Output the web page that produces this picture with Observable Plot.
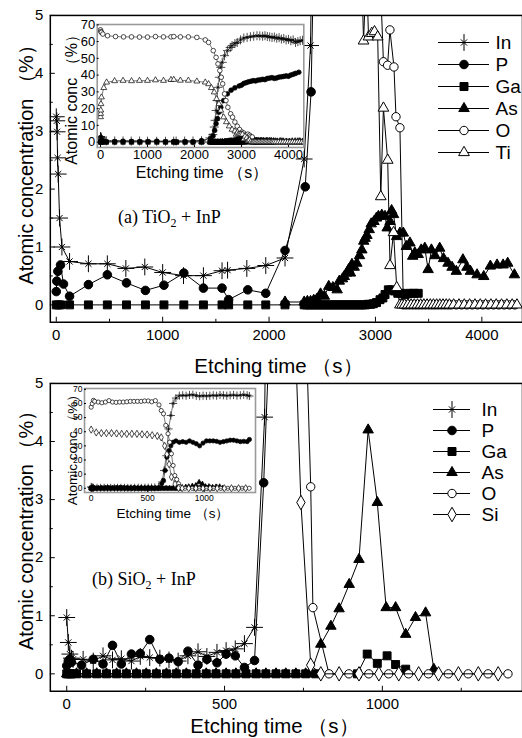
<!DOCTYPE html>
<html><head><meta charset="utf-8">
<script src="https://cdn.jsdelivr.net/npm/d3@7"></script>
<script src="https://cdn.jsdelivr.net/npm/@observablehq/plot@0.6"></script>
<style>
html,body{margin:0;padding:0;background:#fff;overflow:hidden;}
#root{position:relative;width:522px;height:738px;overflow:hidden;font-family:"Liberation Sans",Arial,sans-serif;}
#root > *{position:absolute;}
#root svg{overflow:visible;}
.ann{font-family:"Liberation Serif","Times New Roman",serif;font-size:18px;line-height:1;white-space:nowrap;color:#000;}
.ann .sub{font-size:12px;position:relative;top:4px;}
</style></head><body><div id="root"></div>
<script>
// ---------------- text & ticks ----------------
const xTitle = "Etching time （s）";
const yTitle = "Atomic concentration （%）";
const insetYTitle = "Atomic conc （%）";
const legendA = ["In","P","Ga","As","O","Ti"];
const legendB = ["In","P","Ga","As","O","Si"];
const xTicksA = [0,1000,2000,3000,4000];
const xMinorA = [500,1500,2500,3500];
const xTicksB = [0,500,1000];
const xMinorB = [250,750,1250];
const yTicks = [0,1,2,3,4,5];
const yMinor = [0.5,1.5,2.5,3.5,4.5];
const insetYTicks = [0,10,20,30,40,50,60,70];
const insetXTicksA = [0,1000,2000,3000,4000];
const insetXTicksB = [0,500,1000];

// ---------------- panel (a) TiO2 + InP : [time s, at.%] ----------------
const a_In = [[0,3.25],[5,3.18],[8,2.99],[12,2.54],[18,2.26],[31,1.5],[53,1.0],[125,0.75],[302,0.71],[480,0.71],[654,0.63],[832,0.655],[1000,0.56],[1196,0.505],[1383,0.505],[1558,0.59],[1610,0.6],[1791,0.63],[1969,0.68],[2150,0.81],[2330,2.52],[2390,4.48],[2420,9],[2440,13],[2460,18.9],[2480,24.8],[2500,32.7],[2530,38.7],[2560,44.6],[2590,47.6],[2640,51.6],[2700,54.6],[2760,56.5],[2800,57.6],[2860,58.8],[2910,59.5],[2980,61],[3050,62.1],[3120,62.5],[3190,62.9],[3260,63.2],[3330,63.5],[3390,63.4],[3450,63.2],[3500,63.5],[3550,63],[3600,62.8],[3650,62.5],[3700,62.7],[3750,62],[3800,62.3],[3850,61.5],[3900,61.8],[3950,61],[4000,61.3],[4050,60.5],[4100,61],[4150,59.5],[4200,60],[4250,60.5],[4300,60.8]];
const a_P = [[0,0.23],[5,0.41],[15,0.58],[40,0.69],[68,0.36],[125,0.15],[302,0.35],[480,0.52],[660,0.38],[838,0.25],[1012,0.34],[1199,0.55],[1383,0.29],[1558,0.29],[1620,0.09],[1800,0.26],[1969,0.2],[2150,0.94],[2340,2.04],[2395,3.68],[2430,7],[2460,11],[2490,14],[2520,17.9],[2560,20.8],[2620,24.8],[2700,28.8],[2780,31],[2860,32.4],[2950,33.5],[3000,34],[3050,35],[3100,35.5],[3150,36],[3200,36.3],[3250,36.7],[3300,36.5],[3350,37],[3400,37.2],[3450,37.5],[3500,37.3],[3550,38],[3600,38.2],[3650,38.5],[3700,38],[3750,38.3],[3800,38.8],[3850,39],[3900,39.2],[3950,39.5],[4000,39.3],[4050,40],[4100,40.5],[4150,41],[4220,41.7]];
const a_Ga = [[0,0],[20,0],[40,0],[125,0],[302,0],[480,0],[660,0],[838,0],[1012,0],[1199,0],[1383,0],[1558,0],[1620,0],[1800,0],[1969,0],[2150,0],[2330,0],[2355,0],[2380,0],[2405,0],[2430,0],[2455,0],[2480,0],[2505,0],[2530,0],[2555,0],[2580,0],[2605,0],[2630,0],[2655,0],[2680,0],[2705,0],[2730,0],[2755,0],[2780,0],[2805,0],[2830,0],[2855,0],[2880,0],[2905,0],[2930,0.01],[2955,0.01],[2980,0.02],[3010,0.04],[3043,0.09],[3070,0.12],[3090,0.18],[3121,0.26],[3152,0.26],[3180,0.24],[3210,0.2],[3240,0.2],[3280,0.18],[3320,0.2],[3360,0.2],[3402,0.2]];
const a_As = [[2150,0.05],[2330,0.05],[2360,0.06],[2390,0.06],[2420,0.08],[2450,0.1],[2484,0.19],[2520,0.15],[2561,0.32],[2600,0.3],[2640,0.26],[2660,0.41],[2690,0.45],[2707,0.49],[2730,0.55],[2748,0.61],[2765,0.55],[2779,0.7],[2800,0.65],[2825,0.72],[2850,0.85],[2872,0.95],[2890,1.1],[2903,1.15],[2920,1.2],[2941,1.3],[2960,1.4],[2986,1.44],[3010,1.5],[3028,1.53],[3060,1.55],[3090,1.53],[3110,1.33],[3137,1.44],[3152,1.63],[3170,1.56],[3199,1.18],[3230,1.24],[3262,1.24],[3290,1.01],[3324,1.07],[3350,0.84],[3370,0.9],[3402,0.87],[3430,0.95],[3464,0.98],[3495,0.61],[3526,0.95],[3560,0.85],[3604,0.98],[3640,0.8],[3682,0.72],[3720,0.65],[3760,0.58],[3822,0.78],[3860,0.65],[3893,0.58],[3955,0.52],[4018,0.49],[4080,0.67],[4143,0.69],[4200,0.69],[4243,0.72],[4306,0.52]];
const a_O = [[0,67],[8,66],[20,65.5],[50,64.5],[150,63.5],[320,63],[490,62.8],[660,62.8],[830,62.7],[1000,62.7],[1170,63],[1340,62.8],[1500,62.8],[1560,63],[1700,62.8],[1870,62.8],[2050,62.5],[2230,61],[2300,59.5],[2400,54.6],[2460,50.6],[2500,46.7],[2540,42.7],[2570,38.7],[2600,34.8],[2640,28.8],[2670,24.8],[2710,20.8],[2770,16.9],[2810,14.9],[2860,12],[2910,9.5],[2960,7.5],[3010,6],[3050,5.4],[3075,4.2],[3114,4.14],[3136,4.75],[3174,4.11],[3193,3.25],[3230,3.06],[3262,0],[3290,0],[3320,0],[3350,0],[3380,0],[3410,0],[3440,0],[3470,0],[3500,0],[3530,0],[3560,0],[3590,0],[3620,0],[3650,0],[3680,0],[3710,0],[3760,0],[3810,0],[3860,0],[3910,0],[3960,0],[4010,0],[4060,0],[4110,0],[4160,0],[4210,0],[4260,0],[4310,0]];
const a_Ti = [[0,15],[3,17],[6,19],[10,22.8],[20,26.8],[70,32.4],[130,35.7],[300,36.5],[480,36.7],[660,36.5],[830,36.7],[1000,36.7],[1170,37],[1340,36.7],[1500,37.2],[1560,37.3],[1700,36.8],[1870,36.8],[2050,36.3],[2230,35.7],[2300,34.7],[2360,32.4],[2420,29.8],[2470,25.8],[2520,22.8],[2560,18.9],[2620,14.9],[2680,12],[2740,9.5],[2800,7.5],[2860,6.5],[2888,4.56],[2915,5.8],[2935,4.63],[2965,4.69],[2991,4.72],[3021,4.63],[3050,1.87],[3075,3.4],[3115,2.5],[3137,0.68],[3170,1.25],[3200,0.3],[3230,0],[3250,0],[3275,0],[3305,0],[3335,0],[3365,0],[3395,0],[3425,0],[3455,0],[3485,0],[3515,0],[3545,0],[3575,0],[3605,0],[3635,0],[3665,0],[3695,0],[3735,0],[3785,0],[3835,0],[3885,0],[3935,0],[3985,0],[4035,0],[4085,0],[4135,0],[4185,0],[4235,0],[4285,0],[4330,0]];

// ---------------- panel (b) SiO2 + InP ----------------
const b_In = [[0,0.97],[5,0.54],[10,0.34],[15,0.27],[20,0.25],[52,0.25],[84,0.22],[115,0.31],[145,0.24],[173,0.26],[205,0.22],[233,0.3],[263,0.28],[295,0.27],[324,0.24],[353,0.22],[384,0.31],[416,0.38],[444,0.3],[476,0.37],[505,0.4],[534,0.43],[563,0.52],[595,0.8],[627,4.42],[645,12.6],[665,23],[685,42],[705,51.5],[725,60],[750,63.8],[780,65.5],[810,65.8],[840,65.5],[870,66],[900,66.2],[930,65.5],[960,65.2],[990,65.5],[1020,65.3],[1050,65.5],[1080,65.8],[1110,65.5],[1140,66],[1170,65.8],[1200,65.5],[1230,65.8],[1260,66],[1290,65.6],[1320,65.8],[1350,66.2],[1380,65.8],[1400,65.3]];
const b_P = [[0,0.14],[5,0.22],[10,0.25],[15,0.2],[47,0.15],[84,0.25],[115,0.17],[145,0.49],[173,0.17],[205,0.34],[233,0.35],[263,0.59],[295,0.25],[324,0.27],[353,0.21],[384,0.39],[416,0.15],[444,0.25],[476,0.19],[505,0.34],[534,0.31],[563,0.11],[595,0.23],[624,3.29],[640,5.5],[655,12.6],[670,22],[690,26.7],[705,30],[725,32.6],[750,33.5],[780,32.5],[810,33],[840,32.5],[870,33.5],[900,32.5],[930,31.5],[960,30],[990,32],[1020,33.5],[1050,33.5],[1080,33.5],[1110,33.2],[1140,32.5],[1170,33],[1200,33.5],[1230,34],[1260,34],[1290,33.5],[1320,33],[1350,33.2],[1380,33],[1400,34.5]];
const b_Ga = [[0,0],[5,0],[10,0],[15,0],[31,0],[63,0],[95,0],[126,0],[158,0],[189,0],[221,0],[252,0],[284,0],[316,0],[347,0],[379,0],[410,0],[442,0],[473,0],[505,0],[536,0],[568,0],[600,0],[631,0],[663,0],[694,0],[726,0],[757,0],[789,0],[921,0],[952,0.34],[984,0.18],[1015,0.31],[1042,0.16],[1074,0.08]];
const b_As = [[0,0],[31,0],[63,0],[95,0],[126,0],[158,0],[189,0],[221,0],[252,0],[284,0],[316,0],[347,0],[379,0],[410,0],[442,0],[473,0],[505,0],[536,0],[568,0],[600,0],[631,0],[663,0],[694,0],[726,0],[757,0],[773,0],[805,0.51],[837,0.82],[863,1.12],[895,1.54],[926,1.97],[955,4.2],[984,2.95],[1012,1.14],[1042,1.14],[1074,0.68],[1105,0.97],[1137,1.05],[1163,0.08]];
const b_O = [[0,57.4],[10,59.9],[20,62.2],[31,61.5],[63,61],[95,60.5],[126,61],[158,62],[189,61],[221,60.8],[252,61],[284,61],[316,61.2],[347,61.5],[379,61.5],[410,61.5],[442,61.5],[473,61.8],[505,61.8],[536,61.2],[568,62],[600,59],[620,55],[640,52.7],[660,44.5],[680,38.6],[695,32.6],[710,24.4],[725,16.1],[740,9],[757,6.2],[773,3.22],[780,1.14],[831,0],[894,0],[957,0],[1020,0],[1083,0],[1146,0],[1209,0],[1272,0],[1335,0],[1398,0]];
const b_Si = [[0,41.5],[45,39.5],[90,39],[135,39],[180,39],[225,38.8],[270,38.5],[315,38.5],[360,38.5],[405,38.5],[450,38.2],[495,38],[540,37.5],[585,37],[620,36],[650,30],[670,24],[690,17],[710,8],[742,2.95],[773,0.15],[805,0],[863,0],[926,0],[989,0],[1052,0],[1115,0],[1178,0],[1241,0],[1304,0],[1367,0]];

const seriesA = {In: a_In, P: a_P, Ga: a_Ga, As: a_As, O: a_O, Ti: a_Ti};
const seriesB = {In: b_In, P: b_P, Ga: b_Ga, As: b_As, O: b_O, Si: b_Si};

// ---------------- styles ----------------
const STYLE = {
  In: {sym: ["plus","times"], k: [1, 0.53], fill: "none", base: 5.5},
  P:  {sym: ["circle"], k: [1], fill: "black", base: 4.3},
  Ga: {sym: ["square"], k: [1], fill: "black", base: 4.5},
  As: {sym: ["triangle"], k: [1], fill: "black", base: 3.9},
  O:  {sym: ["circle"], k: [1], fill: "white", base: 4.2},
  Ti: {sym: ["triangle"], k: [1], fill: "white", base: 4.0},
  Si: {sym: ["diamond"], k: [1], fill: "white", base: 4.4}
};
const FONT = "'Liberation Sans', Arial, Helvetica, sans-serif";
const fmt = d3.format("d");

function seriesMarks(series, names, scale, lineW, dotW, lineColor) {
  const out = [];
  for (const el of names) {
    const data = series[el], st = STYLE[el];
    out.push(Plot.line(data, {x: d => d[0], y: d => d[1], stroke: lineColor, strokeWidth: lineW, clip: true}));
    st.sym.forEach((s, i) => {
      out.push(Plot.dot(data, {x: d => d[0], y: d => d[1], symbol: s, r: st.base * st.k[i] * scale,
        fill: st.fill, stroke: "black", strokeWidth: dotW, clip: true}));
    });
  }
  return out;
}

function mainPlot(series, names, o) {
  return Plot.plot({
    width: 524, height: 369,
    marginLeft: 50, marginRight: 0, marginTop: o.mt, marginBottom: o.mb,
    style: {background: "transparent", fontFamily: FONT, color: "black", overflow: "visible"},
    x: {domain: o.xd}, y: {domain: [-0.3, 5]},
    marks: [
      ...seriesMarks(series, names, 1, 1, 1, "black"),
      Plot.frame({stroke: "black", strokeWidth: 1.5}),
      Plot.axisX({ticks: o.xt, tickSize: -5, tickPadding: 12, fontSize: 15, tickFormat: fmt, label: null}),
      Plot.axisX({ticks: o.xm, tickSize: -3, tickFormat: () => "", label: null}),
      Plot.axisY({ticks: yTicks, tickSize: -5, tickPadding: 12, fontSize: 15, tickFormat: fmt, label: null}),
      Plot.axisY({ticks: yMinor, tickSize: -3, tickFormat: () => "", label: null}),
      Plot.text([xTitle], {text: d => d, frameAnchor: "bottom", textAnchor: "middle", lineAnchor: "middle", dy: o.xdy, dx: o.xdx, fontSize: 20.5}),
      Plot.text([yTitle], {text: d => d, frameAnchor: "left", textAnchor: "middle", lineAnchor: "middle", rotate: -90, dx: -24, dy: o.ydy, fontSize: 20})
    ]
  });
}

function insetPlot(series, names, o) {
  return Plot.plot({
    width: o.w, height: o.h,
    marginLeft: o.ml, marginRight: o.mr, marginTop: o.mt, marginBottom: o.mb,
    style: {background: "transparent", fontFamily: FONT, color: "black", overflow: "visible"},
    x: {domain: o.xd}, y: {domain: o.yd},
    marks: [
      Plot.frame({fill: "white", stroke: "none"}),
      ...seriesMarks(series, names, o.ms, 0.6, 0.7, "#222"),
      Plot.frame({stroke: "#9a9a9a", strokeWidth: 1.6}),
      Plot.axisX({ticks: o.xt, tickSize: -2, tickPadding: 4, fontSize: o.fs, tickFormat: fmt, label: null}),
      Plot.axisY({ticks: insetYTicks, tickSize: -2, tickPadding: 4, fontSize: o.fs, tickFormat: fmt, label: null}),
      Plot.text([xTitle], {text: d => d, frameAnchor: "bottom", textAnchor: "middle", lineAnchor: "middle", dy: o.xdy, dx: o.xdx, fontSize: o.tfs}),
      Plot.text([insetYTitle], {text: d => d, frameAnchor: "left", textAnchor: "middle", lineAnchor: "middle", rotate: -90, dx: o.ydx, dy: o.ydy, fontSize: o.tfs})
    ]
  });
}

function legendPlot(names, o) {
  const marks = [Plot.ruleY(names, {y: d => d, x1: 0, x2: 1, stroke: "black", strokeWidth: 1})];
  for (const el of names) {
    const st = STYLE[el];
    st.sym.forEach((s, i) => marks.push(Plot.dot([el], {x: 0.5, y: d => d, symbol: s, r: st.base * st.k[i],
      fill: st.fill, stroke: "black", strokeWidth: 1})));
  }
  marks.push(Plot.text(names, {x: 1, y: d => d, text: d => d, dx: o.tdx, textAnchor: "start", fontSize: 19}));
  return Plot.plot({
    width: o.w, height: o.h, margin: 0,
    style: {background: "transparent", fontFamily: FONT, color: "black", overflow: "visible"},
    x: {domain: [0, 1], range: o.xr, axis: null},
    y: {type: "point", domain: names, range: o.yr, axis: null},
    marks
  });
}

function place(el, left, top) {
  el.style.left = left + "px"; el.style.top = top + "px";
  document.getElementById("root").appendChild(el);
  return el;
}
function ann(html, left, top) {
  const d = document.createElement("div");
  d.className = "ann"; d.innerHTML = html;
  return place(d, left, top);
}

// panel (a)
place(mainPlot(seriesA, legendA, {mt: 15, mb: 46, xd: [-56, 4382], xt: xTicksA, xm: xMinorA, xdx: -8, xdy: 44, ydy: -9}), 0, 0);
place(insetPlot(seriesA, legendA, {w: 263.3, h: 166, ml: 46.7, mr: 10, mt: 8, mb: 35, xd: [-70, 4326], yd: [-3.2, 70.2],
  xt: insetXTicksA, fs: 13, tfs: 16, ms: 0.55, xdy: 25, xdx: 1.5, ydx: -25, ydy: 10}), 50, 16);
place(legendPlot(legendA, {w: 86, h: 166, xr: [2, 53], yr: [16, 149.3], tdx: 6}), 436, 14);
ann('(a) TiO<span class="sub">2</span> + InP', 118, 208);

// panel (b)
place(mainPlot(seriesB, legendB, {mt: 14, mb: 46, xd: [-52, 1444], xt: xTicksB, xm: xMinorB, xdx: -12, xdy: 35, ydy: -12}), 0, 369);
place(insetPlot(seriesB, legendB, {w: 210, h: 140, ml: 33, mr: 6, mt: 4, mb: 32, xd: [-59, 1454], yd: [-3, 70.6],
  xt: insetXTicksB, fs: 8.5, tfs: 13.5, ms: 0.5, xdy: 21, xdx: 3, ydx: -12, ydy: 6}), 51, 384);
place(legendPlot(legendB, {w: 89, h: 160, xr: [0, 37], yr: [14.3, 142], tdx: 11}), 433, 383);
ann('(b) SiO<span class="sub">2</span> + InP', 92, 570);
</script></body></html>
